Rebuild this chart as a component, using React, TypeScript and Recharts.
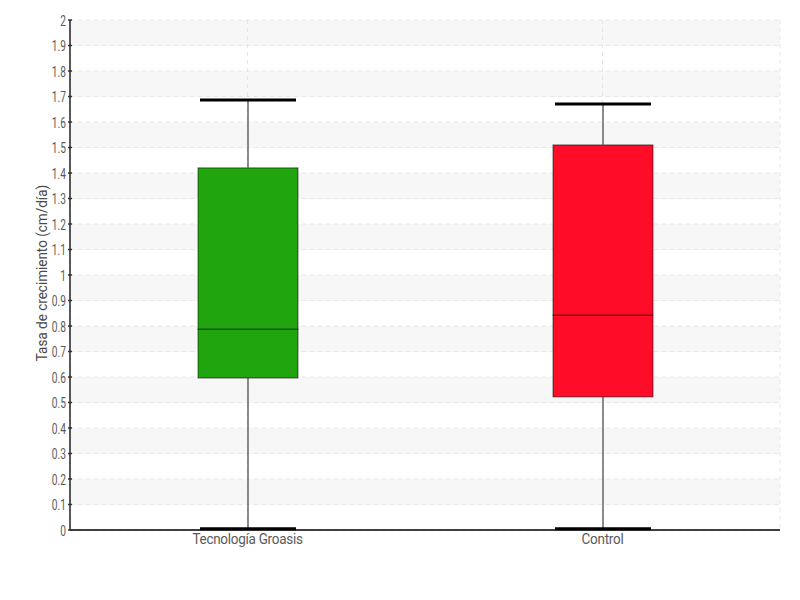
import React from "react";
import { ComposedChart, Bar, XAxis, YAxis, CartesianGrid, Label } from "recharts";

const categories = ["Tecnología Groasis", "Control"];
const minVals = [0.005, 0.005];
const q1Vals = [0.596, 0.522];
const medianVals = [0.788, 0.843];
const q3Vals = [1.42, 1.51];
const maxVals = [1.686, 1.671];
const majorTicks = [0, 0.1, 0.2, 0.3, 0.4, 0.5, 0.6, 0.7, 0.8, 0.9, 1, 1.1, 1.2, 1.3, 1.4, 1.5, 1.6, 1.7, 1.8, 1.9, 2];
const minorTicks = [0.05, 0.15, 0.25, 0.35, 0.45, 0.55, 0.65, 0.75, 0.85, 0.95, 1.05, 1.15, 1.25, 1.35, 1.45, 1.55, 1.65, 1.75, 1.85, 1.95];
const yLabel = "Tasa de crecimiento (cm/día)";

const boxColors = ["#21a50f", "#ff0d28"];
const FONT = "Roboto, 'Noto Sans', sans-serif";

const data = categories.map((name, i) => ({
  name,
  idx: i,
  base: minVals[i],
  lowerWhisker: q1Vals[i] - minVals[i],
  lowerBox: medianVals[i] - q1Vals[i],
  upperBox: q3Vals[i] - medianVals[i],
  upperWhisker: maxVals[i] - q3Vals[i],
}));

const Empty = () => <g />;

const LowerWhisker = (props: any) => {
  const { x, y, width, height } = props;
  const cx = x + width / 2;
  return (
    <g>
      <line x1={cx} x2={cx} y1={y} y2={y + height} stroke="#666" strokeWidth={1.5} />
      <line x1={x + 2} x2={x + width - 2} y1={y + height} y2={y + height} stroke="#000" strokeWidth={3} />
    </g>
  );
};

const UpperWhisker = (props: any) => {
  const { x, y, width, height } = props;
  const cx = x + width / 2;
  return (
    <g>
      <line x1={cx} x2={cx} y1={y} y2={y + height} stroke="#666" strokeWidth={1.5} />
      <line x1={x + 2} x2={x + width - 2} y1={y} y2={y} stroke="#000" strokeWidth={3} />
    </g>
  );
};

const BoxPart = (props: any) => {
  const { x, y, width, height, payload } = props;
  const color = boxColors[payload.idx];
  return (
    <rect x={x} y={y} width={width} height={height} fill={color} stroke="rgba(0,0,0,0.55)" strokeWidth={1} />
  );
};

const YTick = (props: any) => {
  const { x, y, payload } = props;
  return (
    <g>
      <line x1={x + 2} x2={x + 6} y1={y} y2={y} stroke="#333" strokeWidth={1.5} />
      <text
        transform={`translate(${x},${y}) scale(0.68,1)`}
        x={0}
        y={0}
        dy={5.5}
        textAnchor="end"
        fill="#5a5a5a"
        fontSize={15}
        fontFamily={FONT}
      >
        {String(payload.value)}
      </text>
    </g>
  );
};

const XTick = (props: any) => {
  const { x, y, payload } = props;
  return (
    <text
      transform={`translate(${x},${y}) scale(0.9,1)`}
      x={0}
      y={0}
      dy="0.71em"
      textAnchor="middle"
      fill="#5a5a5a"
      fontSize={15}
      fontFamily={FONT}
      letterSpacing={-0.3}
    >
      {payload.value}
    </text>
  );
};

const YLabelContent = (props: any) => {
  const { viewBox } = props;
  const cx = viewBox.x + viewBox.width / 2 + 7;
  const cy = viewBox.y + viewBox.height / 2 - 2;
  return (
    <text
      transform={`translate(${cx},${cy}) rotate(-90) scale(0.9,1)`}
      x={0}
      y={0}
      textAnchor="middle"
      dominantBaseline="central"
      fill="#4a4a4a"
      fontSize={15}
      fontFamily={FONT}
    >
      {yLabel}
    </text>
  );
};

export default function App() {
  return (
    <div style={{ position: "absolute", left: 0, top: 0, width: 800, height: 600, background: "#fff" }}>
      <ComposedChart
        width={800}
        height={600}
        data={data}
        margin={{ top: 20, right: 20, left: 0, bottom: 40 }}
      >
        <CartesianGrid
          strokeDasharray="4 4"
          stroke="#e6e6e6"
          horizontalFill={["#f7f7f7", "#ffffff"]}
          fillOpacity={1}
        />
        <XAxis
          dataKey="name"
          height={30}
          tickLine={false}
          tickSize={0}
          tickMargin={3}
          axisLine={{ stroke: "#000", strokeWidth: 1.5 }}
          tick={<XTick />}
        />
        <YAxis
          yAxisId={0}
          type="number"
          domain={[0, 2]}
          ticks={majorTicks}
          interval={0}
          width={70}
          tickSize={0}
          tickMargin={4}
          tickLine={false}
          axisLine={{ stroke: "#222", strokeWidth: 1.5 }}
          tick={<YTick />}
        >
          <Label content={<YLabelContent />} position="center" />
        </YAxis>
        <YAxis
          yAxisId="minor"
          type="number"
          domain={[0, 2]}
          ticks={minorTicks}
          interval={0}
          width={0}
          tickSize={2}
          tick={false}
          axisLine={false}
          tickLine={{ stroke: "#ff3030", strokeWidth: 1 }}
        />
        <Bar dataKey="base" stackId="box" barSize={100} shape={<Empty />} isAnimationActive={false} />
        <Bar dataKey="lowerWhisker" stackId="box" barSize={100} shape={<LowerWhisker />} isAnimationActive={false} />
        <Bar dataKey="lowerBox" stackId="box" barSize={100} shape={<BoxPart />} isAnimationActive={false} />
        <Bar dataKey="upperBox" stackId="box" barSize={100} shape={<BoxPart />} isAnimationActive={false} />
        <Bar dataKey="upperWhisker" stackId="box" barSize={100} shape={<UpperWhisker />} isAnimationActive={false} />
      </ComposedChart>
    </div>
  );
}
